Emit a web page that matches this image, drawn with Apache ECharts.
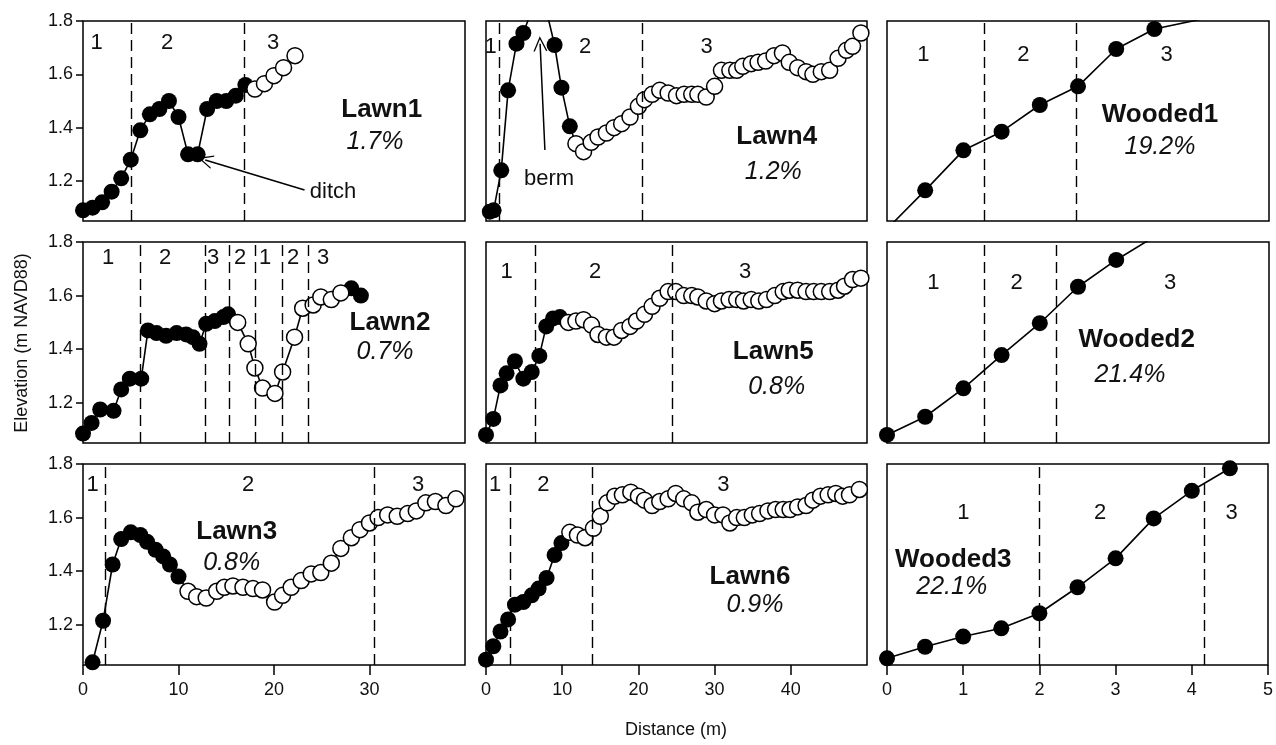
<!DOCTYPE html>
<html>
<head>
<meta charset="utf-8">
<script src="https://cdn.jsdelivr.net/npm/echarts@6/dist/echarts.min.js"></script>
<style>
html, body { margin: 0; padding: 0; background: #fff; }
#chart { width: 1276px; height: 745px; }
</style>
</head>
<body>
<div id="chart"></div>
<script>
'use strict';

/* ---- data: [distance m, elevation m] ---- */
var lawn1Solid = [[0,1.09],[1,1.10],[2,1.12],[3,1.16],[4,1.21],[5,1.28],[6,1.39],[7,1.45],[8,1.47],[9,1.50],[10,1.44],[11,1.30],[12,1.30],[13,1.47],[14,1.50],[15,1.50],[16,1.52],[17,1.56]];
var lawn1Open = [[18,1.545],[19,1.565],[20,1.595],[21,1.625],[22.2,1.67]];
var lawn1Zones = [5, 16.9];

var lawn4Solid = [[0.5,1.085],[1,1.09],[2,1.24],[2.9,1.54],[4,1.715],[4.9,1.755],[6,1.84],[7,1.87],[8,1.83],[9,1.71],[9.9,1.55],[11,1.405]];
var lawn4Open = [[11.8,1.34],[12.8,1.31],[13.8,1.345],[14.7,1.365],[15.8,1.38],[16.8,1.40],[17.8,1.415],[18.9,1.44],[20,1.48],[20.8,1.505],[21.8,1.525],[22.8,1.54],[23.9,1.53],[25,1.52],[26,1.525],[27,1.525],[27.8,1.525],[28.9,1.515],[30,1.555],[30.9,1.615],[32,1.615],[32.9,1.615],[33.7,1.63],[34.8,1.64],[35.7,1.645],[36.7,1.65],[37.8,1.67],[38.9,1.68],[39.8,1.645],[40.9,1.625],[42,1.61],[42.9,1.60],[44,1.61],[45.1,1.615],[46.2,1.66],[47.3,1.69],[48.1,1.705],[49.2,1.755]];
var lawn4Zones = [1.8, 20.5];

var wooded1Solid = [[0,1.02],[0.5,1.165],[1,1.315],[1.5,1.385],[2,1.485],[2.5,1.555],[3,1.695],[3.5,1.77],[4.5,1.83]];
var wooded1Zones = [1.27, 2.48];

var lawn2Solid = [[0,1.085],[0.9,1.125],[1.8,1.175],[3.2,1.17],[4,1.25],[4.9,1.29],[6.1,1.29],[6.8,1.47],[7.7,1.46],[8.7,1.45],[9.8,1.46],[10.8,1.455],[11.5,1.445],[12.2,1.42],[12.9,1.495],[13.8,1.505],[14.7,1.52],[15.2,1.53],[28.1,1.627],[29.1,1.60]];
var lawn2Open = [[16.2,1.50],[17.3,1.42],[18,1.33],[18.8,1.255],[20.1,1.235],[20.9,1.315],[22.15,1.445],[23,1.553],[24.1,1.565],[24.9,1.595],[26,1.585],[27,1.61]];
var lawn2Zones = [6, 12.75, 15.35, 18, 20.9, 23.55];

var lawn5Solid = [[0,1.08],[0.96,1.14],[1.9,1.265],[2.7,1.31],[3.8,1.355],[4.9,1.29],[6,1.315],[7,1.375],[7.9,1.485],[8.8,1.515],[9.7,1.52]];
var lawn5Open = [[10.8,1.50],[11.8,1.505],[12.8,1.51],[13.85,1.49],[14.7,1.455],[15.8,1.445],[16.8,1.445],[17.8,1.47],[18.9,1.485],[19.75,1.505],[20.8,1.53],[21.8,1.56],[22.8,1.59],[23.9,1.615],[24.9,1.615],[25.95,1.60],[27,1.60],[27.8,1.595],[28.9,1.58],[30,1.57],[30.9,1.58],[31.9,1.585],[32.9,1.585],[33.8,1.58],[34.8,1.585],[35.8,1.58],[36.8,1.585],[37.9,1.60],[39,1.615],[39.8,1.62],[40.9,1.62],[42,1.615],[43,1.615],[44,1.615],[45.1,1.615],[46.2,1.62],[47.05,1.635],[48.1,1.66],[49.2,1.665]];
var lawn5Zones = [6.4, 24.5];

var wooded2Solid = [[0,1.08],[0.5,1.148],[1,1.254],[1.5,1.378],[2,1.497],[2.5,1.633],[3,1.733],[3.5,1.82]];
var wooded2Zones = [1.27, 2.21];

var lawn3Solid = [[1,1.06],[2.1,1.215],[3.1,1.425],[4,1.52],[5,1.545],[6,1.535],[6.7,1.51],[7.6,1.48],[8.4,1.455],[9.1,1.425],[10,1.38]];
var lawn3Open = [[11,1.325],[11.9,1.305],[12.9,1.30],[14,1.325],[14.8,1.34],[15.7,1.345],[16.75,1.34],[17.8,1.335],[18.8,1.33],[20.06,1.285],[20.9,1.31],[21.8,1.34],[22.85,1.365],[23.9,1.39],[24.9,1.395],[26,1.43],[27,1.485],[28.1,1.525],[29,1.555],[30,1.58],[30.9,1.60],[31.9,1.61],[32.9,1.605],[34,1.615],[34.9,1.625],[35.9,1.655],[36.9,1.66],[38,1.645],[39.05,1.67]];
var lawn3Zones = [2.3, 30.5];

var lawn6Solid = [[0,1.07],[0.96,1.12],[1.9,1.175],[2.9,1.22],[3.8,1.275],[4.9,1.285],[6,1.31],[6.9,1.335],[7.95,1.375],[9,1.46],[9.9,1.505]];
var lawn6Open = [[11,1.545],[12,1.535],[13,1.525],[14.1,1.56],[15,1.605],[15.9,1.655],[16.9,1.68],[17.9,1.685],[19,1.695],[20,1.68],[20.8,1.665],[21.8,1.645],[22.8,1.66],[23.9,1.67],[24.9,1.69],[25.95,1.67],[27,1.655],[27.8,1.62],[28.9,1.63],[30,1.61],[31.1,1.61],[32,1.58],[32.9,1.60],[33.9,1.60],[34.95,1.61],[35.9,1.615],[37,1.625],[38,1.63],[39,1.63],[39.9,1.63],[40.9,1.64],[42,1.645],[42.9,1.665],[43.9,1.68],[44.9,1.685],[45.9,1.69],[46.8,1.68],[47.7,1.685],[49,1.705]];
var lawn6Zones = [3.15, 14.0];

var wooded3Solid = [[0,1.075],[0.5,1.118],[1,1.156],[1.5,1.187],[2,1.243],[2.5,1.34],[3,1.448],[3.5,1.597],[4,1.70],[4.5,1.784]];
var wooded3Zones = [2.0, 4.16];

/* ---- axes ---- */
var yTicks = [1.2, 1.4, 1.6, 1.8];
var xTicksCol1 = [0, 10, 20, 30];
var xTicksCol2 = [0, 10, 20, 30, 40];
var xTicksCol3 = [0, 1, 2, 3, 4, 5];

var FONT = '"Liberation Sans", Arial, Helvetica, sans-serif';
var INK = '#111';

/* ---- layout (px) ---- */
var colLeft = [83, 486, 887];
var colWidth = [382, 381, 382];
var colMax = [40, 50, 5];
var colStep = [10, 10, 1];
var colTicks = [xTicksCol1, xTicksCol2, xTicksCol3];
var rowTop = [21, 242, 464];
var rowHeight = [200, 201, 201];

var chevron = 'path://M0,0 L10,20 L8,20 L0,4 L-8,20 L-10,20 Z';

var panels = [
	{ solid: lawn1Solid, open: lawn1Open, zones: lawn1Zones, arrow: [[23.2,1.166],[12.8,1.279]] },
	{ solid: lawn4Solid, open: lawn4Open, zones: lawn4Zones, arrow: [[7.73,1.316],[7.1,1.715]] },
	{ solid: wooded1Solid, open: [], zones: wooded1Zones },
	{ solid: lawn2Solid, open: lawn2Open, zones: lawn2Zones },
	{ solid: lawn5Solid, open: lawn5Open, zones: lawn5Zones },
	{ solid: wooded2Solid, open: [], zones: wooded2Zones },
	{ solid: lawn3Solid, open: lawn3Open, zones: lawn3Zones },
	{ solid: lawn6Solid, open: lawn6Open, zones: lawn6Zones },
	{ solid: wooded3Solid, open: [], zones: wooded3Zones }
];

var grids = [], xAxes = [], yAxes = [], series = [];

panels.forEach(function(p, i) {
	var r = Math.floor(i / 3), c = i % 3;
	grids.push({
		left: colLeft[c], top: rowTop[r], width: colWidth[c], height: rowHeight[r],
		show: true, borderColor: '#000', borderWidth: 1.5, backgroundColor: 'transparent'
	});
	xAxes.push({
		type: 'value', gridIndex: i, min: 0, max: colMax[c], interval: colStep[c],
		axisLine: { show: false },
		splitLine: { show: false },
		axisTick: { show: r === 2, length: 10, customValues: colTicks[c], lineStyle: { color: '#000', width: 1.5 } },
		axisLabel: { show: r === 2, customValues: colTicks[c], fontSize: 18, color: INK, margin: 16, fontFamily: FONT }
	});
	yAxes.push({
		type: 'value', gridIndex: i, min: 1.05, max: 1.8,
		axisLine: { show: false },
		splitLine: { show: false },
		axisTick: { show: c === 0, length: 7, customValues: yTicks, lineStyle: { color: '#000', width: 1.5 } },
		axisLabel: { show: c === 0, customValues: yTicks, fontSize: 18, color: INK, margin: 10, fontFamily: FONT }
	});

	var all = p.solid.concat(p.open).sort(function(a, b) { return a[0] - b[0]; });
	series.push({
		type: 'line', xAxisIndex: i, yAxisIndex: i, data: all,
		symbol: 'none', showSymbol: false, clip: true, silent: true, z: 2,
		lineStyle: { color: '#000', width: 1.6 },
		markLine: {
			silent: true, symbol: ['none', 'none'], label: { show: false },
			lineStyle: { color: '#000', width: 1.4, type: [11, 6] },
			data: p.zones.map(function(z) { return { xAxis: z }; })
		}
	});
	var solidSeries = {
		type: 'scatter', xAxisIndex: i, yAxisIndex: i, data: p.solid,
		symbolSize: 16, clip: true, silent: true, z: 3,
		itemStyle: { color: '#000', opacity: 1 }
	};
	if (p.arrow) {
		solidSeries.markLine = {
			silent: true, symbol: ['none', chevron], symbolSize: [14, 15], label: { show: false },
			lineStyle: { color: '#000', width: 1.5, type: 'solid' },
			data: [[{ coord: p.arrow[0] }, { coord: p.arrow[1] }]]
		};
	}
	series.push(solidSeries);
	if (p.open.length) {
		series.push({
			type: 'scatter', xAxisIndex: i, yAxisIndex: i, data: p.open,
			symbolSize: 16, clip: true, silent: true, z: 4,
			itemStyle: { color: '#fff', borderColor: '#000', borderWidth: 1.5, opacity: 1 }
		});
	}
});

/* ---- annotation text ---- */
function txt(x, y, s, size, weight, style, rot) {
	return {
		type: 'text', x: x, y: y, rotation: rot || 0, silent: true, z: 10,
		style: {
			text: s, fill: INK, fontFamily: FONT, fontSize: size,
			fontWeight: weight || 'normal', fontStyle: style || 'normal',
			align: 'center', verticalAlign: 'middle',
			textAlign: 'center', textVerticalAlign: 'middle'
		}
	};
}

var zoneLabels = [
	[96.7,43,'1'],[167,43,'2'],[273,43,'3'],
	[490.7,47,'1'],[585,47,'2'],[706.7,47,'3'],
	[923.3,55,'1'],[1023.3,55,'2'],[1166.7,55,'3'],
	[108,258,'1'],[165,258,'2'],[213,258,'3'],[240,258,'2'],[265,258,'1'],[293,258,'2'],[323,258,'3'],
	[506.7,271.7,'1'],[595,271.7,'2'],[745,271.7,'3'],
	[933.3,283.3,'1'],[1016.7,283.3,'2'],[1170,283.3,'3'],
	[92.7,485,'1'],[248,485,'2'],[418,485,'3'],
	[495,485,'1'],[543.3,485,'2'],[723.3,485,'3'],
	[963.3,513.3,'1'],[1100,513.3,'2'],[1231.7,513.3,'3']
];
var siteNames = [
	[381.7,110,'Lawn1',375,141.7,'1.7%'],
	[776.7,136.7,'Lawn4',773.3,171.7,'1.2%'],
	[1160,115,'Wooded1',1160,146.7,'19.2%'],
	[390,323.3,'Lawn2',385,351.7,'0.7%'],
	[773.3,351.7,'Lawn5',776.7,386.7,'0.8%'],
	[1136.7,340,'Wooded2',1130,375,'21.4%'],
	[236.7,531.7,'Lawn3',231.7,563.3,'0.8%'],
	[750,576.7,'Lawn6',755,605,'0.9%'],
	[953.3,560,'Wooded3',951.7,586.7,'22.1%']
];

var graphics = [];
zoneLabels.forEach(function(z) { graphics.push(txt(z[0], z[1], z[2], 22)); });
siteNames.forEach(function(s) {
	graphics.push(txt(s[0], s[1], s[2], 26, 'bold'));
	graphics.push(txt(s[3], s[4], s[5], 25, 'normal', 'italic'));
});
graphics.push(txt(333, 192, 'ditch', 22));
graphics.push(txt(549, 179, 'berm', 22));
graphics.push(txt(676, 730, 'Distance (m)', 18));
graphics.push(txt(22, 343, 'Elevation (m NAVD88)', 18, 'normal', 'normal', Math.PI / 2));

var chart = echarts.init(document.getElementById('chart'));
chart.setOption({
	animation: false,
	backgroundColor: '#fff',
	grid: grids,
	xAxis: xAxes,
	yAxis: yAxes,
	series: series,
	graphic: graphics
});
</script>
</body>
</html>
